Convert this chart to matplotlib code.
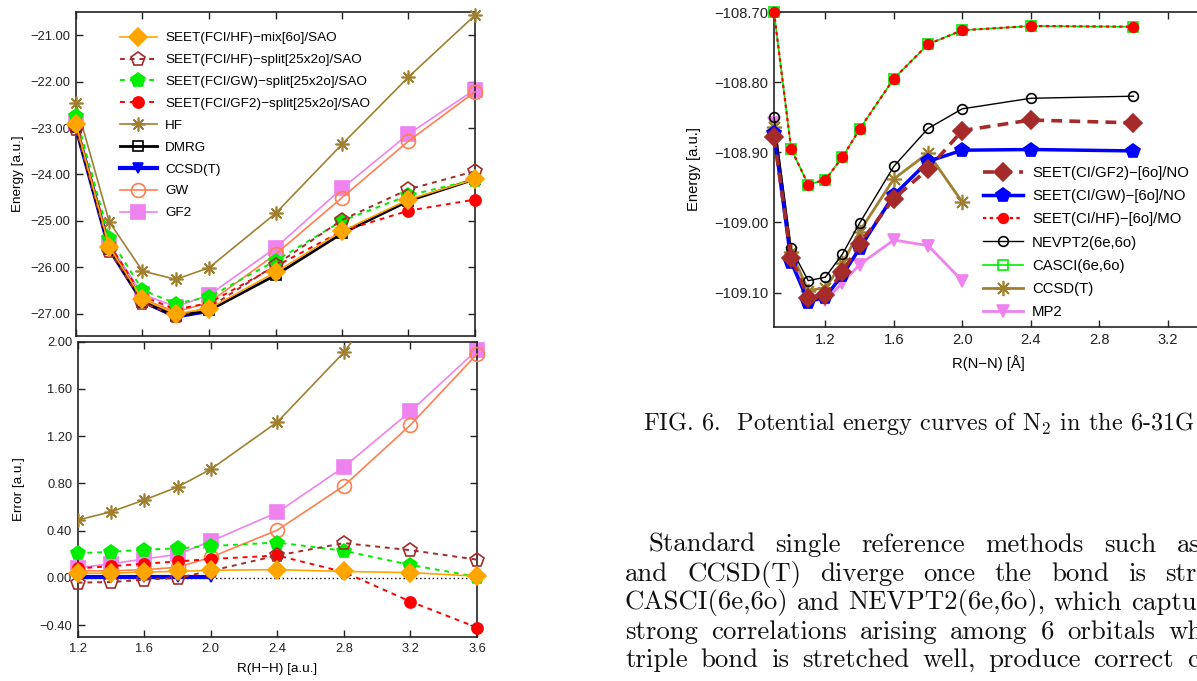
import matplotlib
matplotlib.use("Agg")
import matplotlib.pyplot as plt
from matplotlib.ticker import FuncFormatter

# H10 chain data (left panels)
r_hh = [1.2, 1.4, 1.6, 1.8, 2.0, 2.4, 2.8, 3.2, 3.6]
r_hh_cc = [1.2, 1.4, 1.6, 1.8, 2.0]

e_mix = [-22.92, -25.56, -26.69, -27.00, -26.89, -26.11, -25.22, -24.54, -24.10]
e_hf_split = [-23.01, -25.64, -26.76, -27.05, -26.87, -25.95, -24.98, -24.32, -23.93]
e_gw_split = [-22.74, -25.36, -26.49, -26.78, -26.64, -25.86, -25.00, -24.45, -24.11]
e_gf2_split = [-22.90, -25.50, -26.62, -26.91, -26.77, -25.98, -25.22, -24.78, -24.54]
e_hf = [-22.47, -25.02, -26.08, -26.26, -26.01, -24.84, -23.35, -21.90, -20.57]
e_dmrg = [-22.98, -25.60, -26.74, -27.05, -26.93, -26.17, -25.27, -24.57, -24.10]
e_ccsdt = [-22.98, -25.60, -26.73, -27.06, -26.94]
e_gw = [-22.93, -25.55, -26.68, -26.96, -26.76, -25.72, -24.50, -23.28, -22.22]
e_gf2 = [-22.90, -25.50, -26.58, -26.85, -26.60, -25.58, -24.30, -23.13, -22.17]

d_mix = [0.04, 0.04, 0.05, 0.055, 0.065, 0.07, 0.055, 0.045, 0.015]
d_hf_split = [-0.04, -0.035, -0.015, 0.0, 0.06, 0.19, 0.295, 0.235, 0.155]
d_gw_split = [0.21, 0.22, 0.24, 0.25, 0.27, 0.30, 0.23, 0.11, 0.01]
d_gf2_split = [0.08, 0.10, 0.12, 0.14, 0.16, 0.19, 0.05, -0.20, -0.42]
d_hf = [0.49, 0.56, 0.66, 0.77, 0.92, 1.32, 1.91, 2.67, 3.53]
d_ccsdt = [0.005, 0.005, 0.005, 0.005, 0.005]
d_gw = [0.06, 0.06, 0.07, 0.09, 0.175, 0.405, 0.78, 1.295, 1.895]
d_gf2 = [0.085, 0.12, 0.16, 0.20, 0.31, 0.555, 0.94, 1.41, 1.93]

# N2 data (right panel)
r_nn = [0.9, 1.0, 1.1, 1.2, 1.3, 1.4, 1.6, 1.8, 2.0, 2.4, 3.0]
r_nn_short = [0.9, 1.0, 1.1, 1.2, 1.3, 1.4, 1.6, 1.8, 2.0]
n_seet_gf2 = [-108.878, -109.050, -109.107, -109.103, -109.071, -109.030, -108.966, -108.924, -108.869, -108.854, -108.858]
n_seet_gw = [-108.873, -109.056, -109.113, -109.106, -109.075, -109.037, -108.961, -108.913, -108.897, -108.896, -108.898]
n_seet_hf = [-108.700, -108.895, -108.946, -108.939, -108.907, -108.867, -108.795, -108.746, -108.726, -108.720, -108.721]
n_nevpt2 = [-108.850, -109.037, -109.083, -109.078, -109.045, -109.001, -108.920, -108.866, -108.838, -108.823, -108.820]
n_casci = [-108.700, -108.895, -108.946, -108.939, -108.907, -108.867, -108.795, -108.746, -108.726, -108.720, -108.721]
n_ccsdt = [-108.864, -109.042, -109.097, -109.093, -109.058, -109.013, -108.938, -108.901, -108.971]
n_mp2 = [-108.858, -109.050, -109.110, -109.111, -109.086, -109.060, -109.025, -109.033, -109.083]

top_yticks = [-27, -26, -25, -24, -23, -22, -21]
err_yticks = [-0.4, 0.0, 0.4, 0.8, 1.2, 1.6, 2.0]
hh_xticks = [1.2, 1.6, 2.0, 2.4, 2.8, 3.2, 3.6]
nn_yticks = [-109.1, -109.0, -108.9, -108.8, -108.7]
nn_xticks = [1.2, 1.6, 2.0, 2.4, 2.8, 3.2]

caption = r'FIG. 6.  Potential energy curves of $\mathrm{N}_2$ in the 6-31G'
body_lines = [
    'Standard single reference methods such as',
    'and CCSD(T) diverge once the bond is stretched',
    'CASCI(6e,6o) and NEVPT2(6e,6o), which capture',
    'strong correlations arising among 6 orbitals when',
    'triple bond is stretched well, produce correct curves',
]

plt.rcParams['font.family'] = ['Liberation Sans', 'DejaVu Sans']
plt.rcParams['mathtext.fontset'] = 'cm'

W, H = 1197, 681
fig = plt.figure(figsize=(W / 100, H / 100), dpi=100)

def px_axes(x0, y0, x1, y1):
    return fig.add_axes([x0 / W, 1 - y1 / H, (x1 - x0) / W, (y1 - y0) / H])

def fmt(nd):
    return FuncFormatter(lambda v, p: ("%.*f" % (nd, v)).replace('-', '\u2212'))

def style_axes(ax, fs):
    for s in ax.spines.values():
        s.set_linewidth(1.2)
        s.set_color('#222222')
    ax.tick_params(direction='in', top=True, right=True, length=5, width=1.0,
                   labelsize=fs, colors='#222222', pad=4)

gold = '#a08030'
dash = (0, (2.5, 2.5))

# (label, color, linestyle, lw, marker, ms, filled)
hh_styles = [
    ('SEET(FCI/HF)\u2212mix[6o]/SAO', '#ffa500', '-', 1.2, 'D', 9, True),
    ('SEET(FCI/HF)\u2212split[25x2o]/SAO', '#a52a2a', dash, 1.4, 'p', 10, False),
    ('SEET(FCI/GW)\u2212split[25x2o]/SAO', '#00ee00', dash, 1.4, 'p', 10, True),
    ('SEET(FCI/GF2)\u2212split[25x2o]/SAO', '#ff0000', dash, 1.4, 'o', 8, True),
    ('HF', gold, '-', 1.2, (8, 2, 0), 10, True),
    ('DMRG', '#000000', '-', 2.0, 's', 6.5, False),
    ('CCSD(T)', '#0000ff', '-', 3.0, 'v', 7, True),
    ('GW', '#ff7f50', '-', 1.2, 'o', 10, False),
    ('GF2', '#ee82ee', '-', 1.2, 's', 10, True),
]

def draw(ax, x, y, st, z, clip=False):
    label, c, ls, lw, m, ms, filled = st
    ln, = ax.plot(x, y, color=c, ls=ls, lw=lw, marker=m, ms=ms,
                  mfc=c if filled else 'none', mec=c, mew=1.2,
                  label=label, zorder=z, clip_on=clip)
    return ln

# ---- top left: energies
ax1 = px_axes(76, 12, 475, 336)
series_top = [(r_hh, e_mix), (r_hh, e_hf_split), (r_hh, e_gw_split), (r_hh, e_gf2_split),
              (r_hh, e_hf), (r_hh, e_dmrg), (r_hh_cc, e_ccsdt), (r_hh, e_gw), (r_hh, e_gf2)]
handles = [None] * len(hh_styles)
for i in reversed(range(len(hh_styles))):
    x, y = series_top[i]
    handles[i] = draw(ax1, x, y, hh_styles[i], 10 - i)
ax1.set_xlim(1.2, 3.6)
ax1.set_ylim(-27.48, -20.5)
ax1.set_yticks(top_yticks)
ax1.yaxis.set_major_formatter(fmt(2))
ax1.set_xticks(hh_xticks)
ax1.set_xticklabels([])
style_axes(ax1, 9.3)
ax1.set_ylabel('Energy [a.u.]', fontsize=9.7)
ax1.yaxis.set_label_coords(-0.13, 0.5)
ax1.legend(handles=handles, loc='upper left', bbox_to_anchor=(0.11, (336 - 32) / 324),
           frameon=False, fontsize=9.7, handlelength=2.75, handletextpad=0.6,
           labelspacing=0.7, borderpad=0, borderaxespad=0, numpoints=1)

# ---- bottom left: errors
ax2 = px_axes(77.7, 341.7, 477, 637)
series_err = [(r_hh, d_mix), (r_hh, d_hf_split), (r_hh, d_gw_split), (r_hh, d_gf2_split),
              (r_hh, d_hf), None, (r_hh_cc, d_ccsdt), (r_hh, d_gw), (r_hh, d_gf2)]
ax2.axhline(0, color='black', lw=1.0, ls=(0, (1, 2)), zorder=1)
for i in reversed(range(len(hh_styles))):
    if series_err[i] is None:
        continue
    x, y = series_err[i]
    draw(ax2, x, y, hh_styles[i], 10 - i, clip=(hh_styles[i][0] == 'HF'))
ax2.set_xlim(1.2, 3.6)
ax2.set_ylim(-0.5, 2.0)
ax2.set_yticks(err_yticks)
ax2.yaxis.set_major_formatter(fmt(2))
ax2.set_xticks(hh_xticks)
ax2.xaxis.set_major_formatter(fmt(1))
style_axes(ax2, 9.3)
ax2.set_ylabel('Error [a.u.]', fontsize=9.7)
ax2.yaxis.set_label_coords(-0.131, 0.5)
ax2.set_xlabel('R(H\u2212H) [a.u.]', fontsize=9.7)
ax2.xaxis.set_label_coords(0.5, -0.088)

# ---- right: N2 curves
ax3 = px_axes(774, 12, 1219, 327)
nn_styles = [
    ('SEET(CI/GF2)\u2212[6o]/NO', '#a52a2a', (0, (3, 2)), 2.6, 'D', 9.5, True),
    ('SEET(CI/GW)\u2212[6o]/NO', '#0000ff', '-', 2.5, 'p', 10, True),
    ('SEET(CI/HF)\u2212[6o]/MO', '#ff0000', (0, (1.5, 1.5)), 1.6, 'o', 7, True),
    ('NEVPT2(6e,6o)', '#000000', '-', 1.0, 'o', 7, False),
    ('CASCI(6e,6o)', '#00ee00', '-', 1.2, 's', 7, False),
    ('CCSD(T)', gold, '-', 2.0, (8, 2, 0), 11, True),
    ('MP2', '#ee82ee', '-', 2.0, 'v', 9, True),
]
series_nn = [(r_nn, n_seet_gf2), (r_nn, n_seet_gw), (r_nn, n_seet_hf), (r_nn, n_nevpt2),
             (r_nn, n_casci), (r_nn_short, n_ccsdt), (r_nn_short, n_mp2)]
handles = [None] * len(nn_styles)
for i in reversed(range(len(nn_styles))):
    x, y = series_nn[i]
    handles[i] = draw(ax3, x, y, nn_styles[i], 10 - i)
ax3.set_xlim(0.9, 3.5)
ax3.set_ylim(-109.149, -108.70)
ax3.set_yticks(nn_yticks)
ax3.yaxis.set_major_formatter(fmt(2))
ax3.set_xticks(nn_xticks)
ax3.xaxis.set_major_formatter(fmt(1))
style_axes(ax3, 10.6)
ax3.set_ylabel('Energy [a.u.]', fontsize=10.6)
ax3.yaxis.set_label_coords(-0.165, 0.5)
ax3.set_xlabel('R(N\u2212N) [\u00c5]', fontsize=10.6)
ax3.xaxis.set_label_coords(0.481, -0.089)
ax3.legend(handles=handles, loc='upper left', bbox_to_anchor=((983 - 774) / 445, (327 - 166) / 315),
           frameon=False, fontsize=10.7, handlelength=2.7, handletextpad=0.6,
           labelspacing=0.62, borderpad=0, borderaxespad=0, numpoints=1)

# ---- caption and justified body text (page fragment, cut at the right edge)
fig.text(643 / W, 1 - 424 / H, caption, family='cmr10', fontsize=17.5,
         va='center', ha='left', color='#111111')

# (y of line, x of first word, x where the last word starts)
line_layout = [(545, 648, 1177), (574, 625, 1165), (603, 625, 1131),
               (632, 625, 1168), (660, 625, 1187)]
renderer = fig.canvas.get_renderer()
for text, (y, x0, x_last) in zip(body_lines, line_layout):
    words = text.split()
    items = [fig.text(0, 1 - y / H, w, family='cmr10', fontsize=19.3, va='center',
                      ha='left', color='#111111') for w in words]
    widths = [t.get_window_extent(renderer).width for t in items]
    gap = (x_last - x0 - sum(widths[:-1])) / (len(words) - 1)
    x = x0
    for t, w in zip(items, widths):
        t.set_x(x / W)
        x += w + gap

fig.savefig('out.png', dpi=100)
